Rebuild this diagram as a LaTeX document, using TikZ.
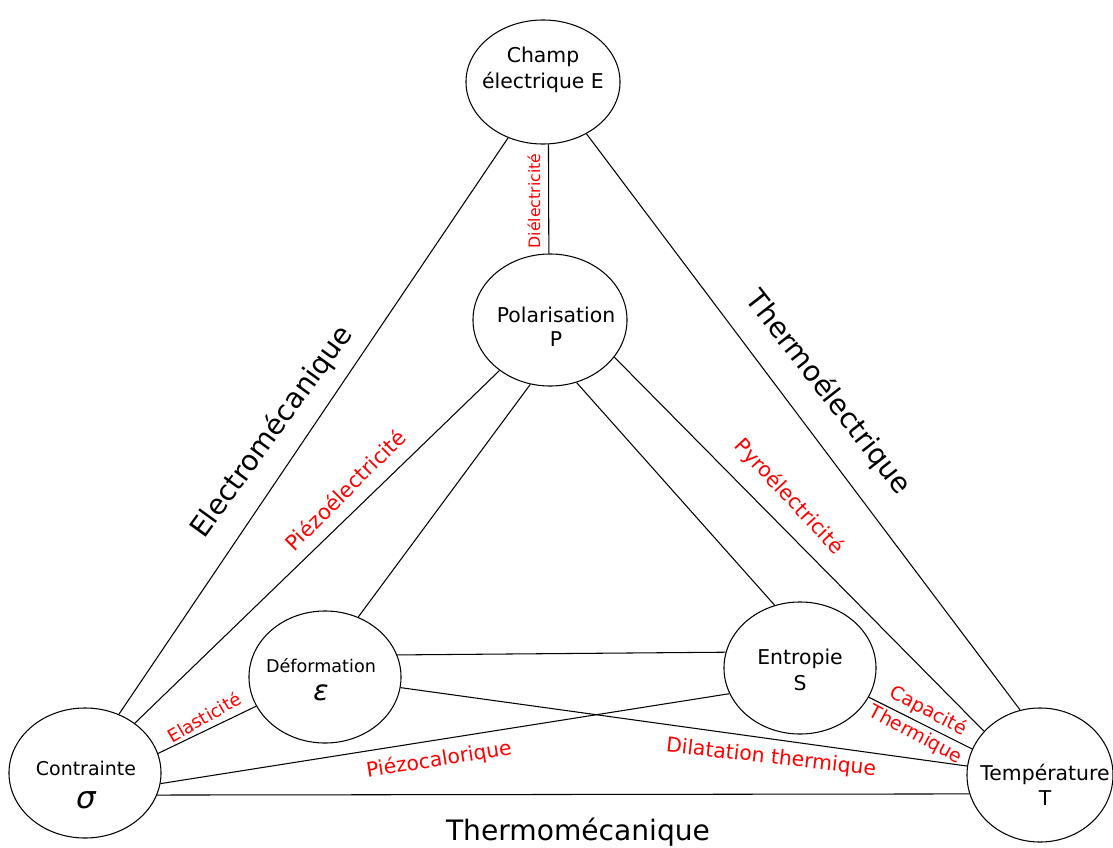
\documentclass[tikz,border=0pt]{standalone}
\usepackage{fontspec}
\setmainfont{DejaVu Sans}
\usetikzlibrary{shapes.geometric}

\begin{document}
\begin{tikzpicture}[x=0.025cm,y=-0.025cm,line width=0.75pt,
  grandeur/.style={draw, ellipse, inner sep=0pt},
  nom/.style={align=center, inner sep=0pt, font=\fontsize{14.5}{18}\selectfont},
  effet/.style={text=red, inner sep=0pt},
  domaine/.style={inner sep=0pt, font=\fontsize{20}{24}\selectfont}]
\useasboundingbox (0,0) rectangle (1113,848);

% les grandeurs
\node[grandeur, minimum width=3.85cm, minimum height=3.1cm] (E) at (543,82) {};
\node[grandeur, minimum width=3.85cm, minimum height=3.3cm] (P) at (550,320) {};
\node[grandeur, minimum width=3.8cm, minimum height=3.3cm] (D) at (325,677) {};
\node[grandeur, minimum width=3.8cm, minimum height=3.3cm] (S) at (800,668) {};
\node[grandeur, minimum width=3.8cm, minimum height=3.25cm] (C) at (85,773) {};
\node[grandeur, minimum width=3.65cm, minimum height=3.35cm] (T) at (1040,775) {};

\node[nom, font=\fontsize{14.5}{18.5}\selectfont] (E-txt) at (543,70) {Champ\\électrique E};
\node[nom, font=\fontsize{14.5}{17}\selectfont] (P-txt) at (556,327) {Polarisation\\P};
\node[nom, font=\fontsize{12.5}{20}\selectfont] (D-txt) at (321,680) {Déformation\\{\fontsize{20}{20}\selectfont\itshape ε}};
\node[nom, font=\fontsize{14.5}{18}\selectfont] (S-txt) at (800,670) {Entropie\\S};
\node[nom, font=\fontsize{13.5}{24}\selectfont] (C-txt) at (86,785) {Contrainte\\{\fontsize{22}{24}\selectfont\itshape σ}};
\node[nom, font=\fontsize{14.5}{18}\selectfont] (T-txt) at (1045,785) {Température\\T};

% les liens
\draw (E.275) -- (P.91);
\draw (E.238) -- (C.60);
\draw (E.310) -- (T.107);
\draw (P.225) -- (C.45);
\draw (P.253) -- (D.61);
\draw (P.293) -- (S.112);
\draw (P.330) -- (T.142);
\draw (C.15) -- (D.203);
\draw (C.352) -- (S.200);
\draw (C.343) -- (T.195);
\draw (D.17) -- (S.168);
\draw (D.352) -- (T.173);
\draw (S.337) -- (T.159);

% les domaines
\node[domaine, rotate=54] (electromeca) at (272,432) {Electromécanique};
\node[domaine, rotate=-52] (thermoelec) at (828,393) {Thermoélectrique};
\node[domaine] (thermomeca) at (578,832) {Thermomécanique};

% les effets
\node[effet, rotate=90, font=\fontsize{11.2}{13}\selectfont] (dielec) at (534,201) {Diélectricité};
\node[effet, rotate=45, font=\fontsize{15}{18}\selectfont] (piezoelec) at (345,490) {Piézoélectricité};
\node[effet, rotate=-47, font=\fontsize{14.7}{18}\selectfont] (pyroelec) at (789,497) {Pyroélectricité};
\node[effet, rotate=30, font=\fontsize{12.7}{15}\selectfont] (elast) at (204,717) {Elasticité};
\node[effet, rotate=9, font=\fontsize{14.4}{17}\selectfont] (piezocalo) at (439,760) {Piézocalorique};
\node[effet, rotate=-6.5, font=\fontsize{14.5}{17}\selectfont] (dilat) at (771,758) {Dilatation thermique};
\node[effet, rotate=-28, align=center, font=\fontsize{13.5}{19}\selectfont] (capa) at (922,723) {Capacité\\Thermique};
\end{tikzpicture}
\end{document}
